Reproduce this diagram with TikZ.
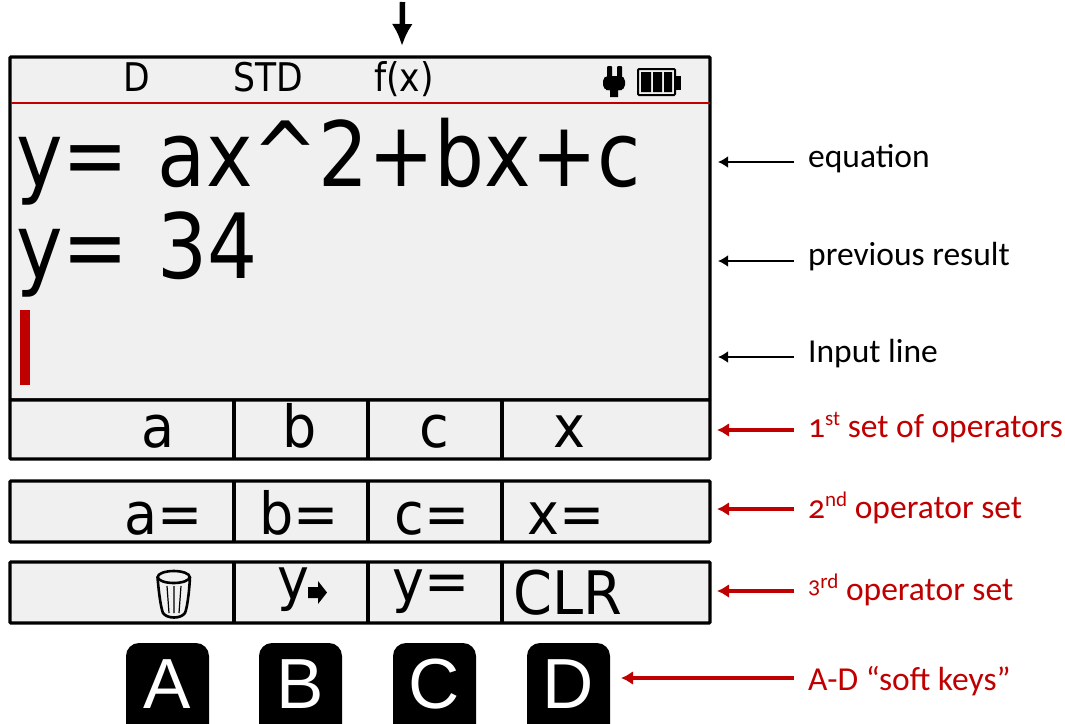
\documentclass[tikz,border=0pt]{standalone}
\usepackage{fontspec}
\usetikzlibrary{arrows.meta}
\setmainfont{Carlito}[Numbers=OldStyle]
\newfontfamily\lcd{DejaVu Sans}[FakeStretch=0.875]
\newfontfamily\lcdop{DejaVu Sans}[FakeStretch=0.93]
\newfontfamily\keyfont{Liberation Sans}
\definecolor{dred}{HTML}{C00000}
\definecolor{panelbg}{HTML}{F0F0F0}
\newcommand{\fsz}[1]{\fontsize{#1}{#1}\selectfont}
\newcommand{\supr}[1]{\raisebox{0.33em}{\fsz{21}#1}}
\tikzset{
  x=1pt,y=-1pt,
  panel/.style={draw=black,fill=panelbg,line width=3.2pt,rounded corners=1pt},
  divider/.style={draw=black,line width=3.2pt},
  status/.style={anchor=base,inner sep=0pt,font=\lcd\fsz{39.5}},
  bigtext/.style={anchor=base west,inner sep=0pt,font=\lcd\fsz{90}},
  optext/.style={anchor=base,inner sep=0pt,font=\lcdop\fsz{58}},
  softkey/.style={fill=black,rounded corners=13pt},
  keyletter/.style={anchor=base,inner sep=0pt,text=white,font=\keyfont\fsz{71}},
  blacklabel/.style={anchor=base west,inner sep=0pt,text=black,font=\fsz{33.5}},
  redlabel/.style={anchor=base west,inner sep=0pt,text=dred,font=\fsz{33.5}},
  blackarrow/.style={draw=black,line width=2.5pt,-{Latex[length=10pt,width=12pt]}},
  redarrow/.style={draw=dred,line width=3.4pt,-{Latex[length=12pt,width=14pt]}},
}
\begin{document}
\begin{tikzpicture}
\useasboundingbox (0,0) rectangle (1065,723);
\clip (0,0) rectangle (1065,723);
% screen
\draw[panel] (10,57) rectangle (710,400);
\draw[draw=dred,line width=2pt] (11,103) -- (710,103);
\draw[panel] (10,400) rectangle (710,459);
\draw[panel] (10,481) rectangle (710,542);
\draw[panel] (10,562) rectangle (710,623);
\foreach \dx in {234,368,502}{
  \draw[divider] (\dx,400) -- (\dx,460);
  \draw[divider] (\dx,481) -- (\dx,543);
  \draw[divider] (\dx,562) -- (\dx,624);
}
% top arrow
\coordinate (topS) at (402.5,2);
\coordinate (topT) at (402,46);
\draw[draw=black,line width=5.5pt,-{Latex[length=22pt,width=21pt]}] (topS) -- (topT);
% status
\node[status] (sD) at (137,91) {D};
\node[status] (sSTD) at (268,91) {STD};
\node[status] (sFx) at (404,91) {f(x)};
% plug
\fill[black,rounded corners=1pt] (607,66) rectangle (612,78);
\fill[black,rounded corners=1pt] (617,66) rectangle (622,78);
\fill[black,rounded corners=5pt] (603,76) -- (625,76) -- (625,90) -- (603,90) -- cycle;
\fill[black] (606,84) rectangle (622,90) (610,90) rectangle (618,97);
% battery
\draw[black,line width=2pt,rounded corners=1pt] (638,69) rectangle (675,95);
\fill[black] (676,76) rectangle (681,90);
\fill[black] (641,72) rectangle (651,92) (653,72) rectangle (662,92) (664,72) rectangle (672,92);
% big text
\node[bigtext] (eq) at (16,186) {y=\hspace{4pt} ax\string^2+bx+c};
\node[bigtext] (res) at (16,278) {y=\hspace{4pt} 34};
\fill[dred] (20,310) rectangle (30,385);
% row 1
\node[optext] (o1a) at (158.5,447) {a};
\node[optext] (o1b) at (300,447) {b};
\node[optext] (o1c) at (434.5,447) {c};
\node[optext] (o1x) at (569,447) {x};
% row 2
\node[optext] (o2a) at (164,534) {a=};
\node[optext] (o2b) at (299,534) {b=};
\node[optext] (o2c) at (432,534) {c=};
\node[optext] (o2x) at (566.5,534) {x=};
% row 3: trash
\draw[black,line width=2.6pt,fill=panelbg] (157.5,577) .. controls (159,595) and (161,608) .. (163,613) .. controls (167,619) and (181,619) .. (185,613) .. controls (187,608) and (189,595) .. (190,577);
\draw[black,line width=2.6pt,fill=panelbg] (173.7,577) ellipse [x radius=16, y radius=6];
\draw[black,line width=1.2pt] (167,586) -- (169,613) (174,586) -- (174,613) (181,586) -- (179,613);
% row 3: y arrow
\node[optext,anchor=base west] (o3y) at (277,599) {y};
\fill[black] (308,587) -- (318,587) -- (318,581) -- (327,592.5) -- (318,604) -- (318,598) -- (308,598) -- cycle;
\node[optext] (o3e) at (431.5,601) {y=};
\node[optext,font=\lcdop\fsz{60}] (o3c) at (567.5,614) {CLR};
% soft keys
\foreach \kx/\kn in {126/A,259/B,393/C,527/D}{
  \fill[softkey] (\kx,643) rectangle (\kx+83,740);
  \node[keyletter] (k\kn) at (\kx+41.5,708) {\kn};
}
% labels
\node[blacklabel] (lEq) at (808,167) {equation};
\node[blacklabel] (lPrev) at (808,265) {previous result};
\node[blacklabel] (lIn) at (808,362) {Input line};
\node[redlabel] (l1) at (808,437) {1\supr{st} set of operators};
\node[redlabel] (l2) at (808,518) {2\supr{nd} operator set};
\node[redlabel] (l3) at (808,600) {\raisebox{7pt}{\fsz{24}3}\supr{rd} operator set};
\node[redlabel] (l4) at (808,690) {A-D “soft keys”};
% arrows
\foreach \nm/\yy in {Eq/162,Prev/261,In/357}{
  \coordinate (s\nm) at (794,\yy);
  \coordinate (t\nm) at (718,\yy);
  \draw[blackarrow] (s\nm) -- (t\nm);
}
\foreach \nm/\yy in {a/430,b/509,c/591}{
  \coordinate (s\nm) at (794,\yy);
  \coordinate (t\nm) at (717,\yy);
  \draw[redarrow] (s\nm) -- (t\nm);
}
\coordinate (sd) at (794,678);
\coordinate (td) at (621,678);
\draw[redarrow] (sd) -- (td);
\end{tikzpicture}
\end{document}
